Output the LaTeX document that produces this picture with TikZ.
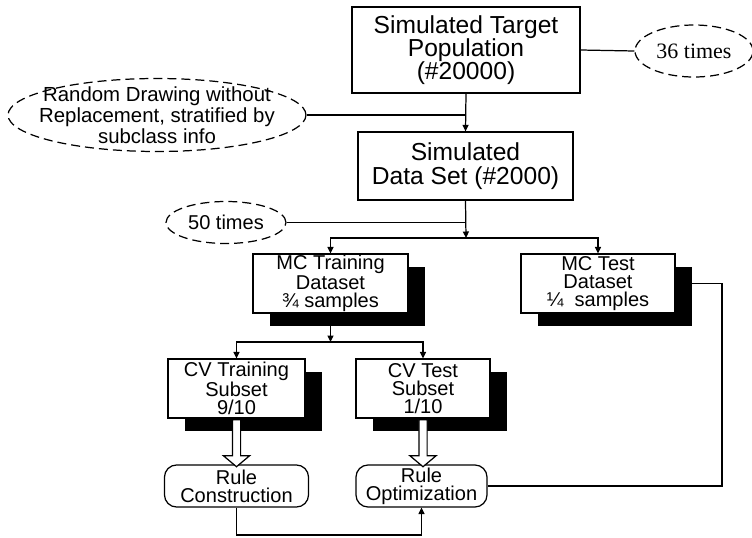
\documentclass[tikz,border=0pt]{standalone}
\usepackage{fontspec}
\setmainfont{Liberation Sans}
\newfontfamily\timesfont{Liberation Serif}
\usepackage{tikz}
\usetikzlibrary{
	arrows.meta,
	positioning,
	shapes.geometric,
	shapes.arrows,
	shadows
}

\begin{document}
\begin{tikzpicture}[x=0.02cm,y=-0.02cm,>={Triangle[length=1.3mm,width=1.2mm]},line width=0.7pt,
	bigbox/.style={draw,align=center,inner sep=0pt,font=\fontsize{14}{13.3}\selectfont},
	databox/.style={draw,fill=white,align=center,inner sep=0pt,minimum height=1.18cm,
		font=\fontsize{11.4}{10.2}\selectfont,
		drop shadow={shadow xshift=0.34cm,shadow yshift=-0.26cm,fill=black,opacity=1}},
	rulebox/.style={draw,rounded corners=0.24cm,align=center,inner sep=0pt,minimum height=0.84cm,
		font=\fontsize{11.4}{10.2}\selectfont},
	dashell/.style={draw,ellipse,dash pattern=on 1.8mm off 1mm,inner sep=0pt,align=center,
		font=\fontsize{11.4}{10.2}\selectfont},
	hollow/.style={draw,fill=white,single arrow,inner sep=0.07cm,minimum height=0.94cm,
		single arrow head extend=0.18cm,single arrow tip angle=100,rotate=-90}
	]
	
	\useasboundingbox (0,0) rectangle (752,538);
	
	% population and sampling
	\node[bigbox,minimum width=4.56cm,minimum height=1.72cm] (poptarget) at (466,50)
	{Simulated Target\\Population\\(\#20000)};
	\node[dashell,minimum width=2.36cm,minimum height=1.04cm,font=\timesfont\fontsize{12.5}{12.5}\selectfont]
	(times36) at (694,51) {36 times};
	\node[dashell,minimum width=5.96cm,minimum height=1.46cm,
	label={[align=center,font=\fontsize{11.6}{10.8}\selectfont]center:Random Drawing without\\Replacement, stratified by\\subclass info}]
	(randdraw) at (157,115) {};
	\node[bigbox,minimum width=4.3cm,minimum height=1.36cm] (dataset) at (465.5,166)
	{Simulated\\Data Set (\#2000)};
	\node[dashell,minimum width=2.4cm,minimum height=0.84cm] (times50) at (226,222.5) {50 times};
	
	% monte carlo split
	\node[databox,minimum width=3.1cm] (mctrain) at (330.5,283.5) {MC Training\\Dataset\\¾ samples};
	\node[databox,minimum width=3.08cm] (mctest) at (598,283.5) {MC Test\\Dataset\\¼~ samples};
	
	% cross validation split
	\node[databox,minimum width=2.74cm] (cvtrain) at (236.5,388.5) {CV Training\\Subset\\9/10};
	\node[databox,minimum width=2.68cm] (cvtest) at (423,388.5) {CV Test\\Subset\\1/10};
	
	\node[rulebox,minimum width=2.88cm] (rulecon) at (236.5,486) {Rule\\Construction};
	\node[rulebox,minimum width=2.62cm] (ruleopt) at (421.5,486) {Rule\\Optimization};
	
	% connectors
	\draw (poptarget.east) -- (times36.west);
	\draw[->] (poptarget.south) -- (dataset.north);
	\draw (randdraw.east) -- (randdraw.east -| poptarget.south);
	
	\coordinate (splitmc) at (466,238);
	\draw[->] (dataset.south) -- (splitmc);
	\draw (times50.east) -- (times50.east -| dataset.south);
	\draw[->] (splitmc) -| (mctrain.north);
	\draw[->] (splitmc) -| (mctest.north);
	
	\coordinate (splitcv) at (330.5,342);
	\draw[->] (mctrain.south) -- (splitcv);
	\draw[->] (splitcv) -| (cvtrain.north);
	\draw[->] (splitcv) -| (cvtest.north);
	
	\path (cvtrain.south) -- (rulecon.north) node[hollow,midway] (fedcon) {};
	\path (cvtest.south) -- (cvtest.south |- ruleopt.north) node[hollow,midway] (fedopt) {};
	
	\coordinate (loopbot) at (236.5,535);
	\draw[->] (rulecon.south) -- (loopbot) -| (ruleopt.south);
	
	\coordinate (testturn) at (722,283.5);
	\draw (mctest.east) -- (testturn) |- (ruleopt.east);
	
\end{tikzpicture}
\end{document}
